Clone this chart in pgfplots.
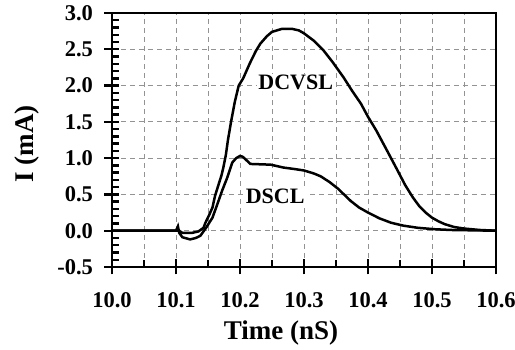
\documentclass[border=0pt]{standalone}
\usepackage{fontspec}
\setmainfont{Liberation Serif}
\usepackage{pgfplots}
\pgfplotsset{compat=1.18}
\begin{document}
\begin{tikzpicture}
\begin{axis}[
  at={(0,0)}, anchor=south west,
  scale only axis, width=384pt, height=254pt,
  xmin=10.0, xmax=10.6, ymin=-0.5, ymax=3.0,
  clip=false,
  xtick={10,10.1,10.2,10.3,10.4,10.5,10.6},
  xticklabels={10.0,10.1,10.2,10.3,10.4,10.5,10.6},
  ytick={-0.5,0,0.5,1,1.5,2,2.5,3},
  yticklabels={-0.5,0.0,0.5,1.0,1.5,2.0,2.5,3.0},
  minor x tick num=1, minor y tick num=4,
  xminorgrids=true, xmajorgrids=true, ymajorgrids=true,
  grid style={dash pattern=on 5pt off 4pt, gray!85, line width=0.8pt},
  tick align=center,
  major tick length=15pt, minor tick length=7pt,
  every minor x tick/.append style={yshift=3.5pt},
  every minor y tick/.append style={xshift=3.5pt},
  tick style={line width=2.4pt, black},
  xtick pos=bottom, ytick pos=left,
  axis line style={line width=1.1pt},
  ticklabel style={font=\bfseries\fontsize{22.5}{22.5}\selectfont},
  xticklabel style={anchor=center, yshift=-26pt},
  yticklabel style={anchor=east, xshift=-8pt},
  xlabel={Time (nS)}, ylabel={I (mA)},
  label style={font=\bfseries\fontsize{27}{27}\selectfont},
  xlabel style={at={(axis description cs:0.44,-0.26)}, anchor=center},
  ylabel style={at={(axis description cs:-0.221,0.484)}, anchor=center},
]
% DCVSL
\addplot[black, line width=2.5pt] coordinates {
(10.0,0) (10.105,0) (10.11,-0.03) (10.125,-0.03) (10.135,-0.01) (10.143,0.04)
(10.146,0.11) (10.152,0.22) (10.157,0.32) (10.161,0.48) (10.167,0.65)
(10.171,0.76) (10.174,0.87) (10.178,1.05) (10.181,1.24) (10.186,1.5)
(10.192,1.78) (10.198,2.0) (10.205,2.1) (10.215,2.3) (10.225,2.48)
(10.232,2.58) (10.242,2.68) (10.25,2.74) (10.265,2.78) (10.282,2.78)
(10.292,2.76) (10.30,2.72) (10.315,2.62) (10.33,2.49) (10.345,2.32)
(10.362,2.11) (10.375,1.93) (10.389,1.75) (10.40,1.57) (10.413,1.38)
(10.43,1.10) (10.445,0.85) (10.458,0.63) (10.47,0.46) (10.48,0.34)
(10.49,0.25) (10.50,0.18) (10.51,0.13) (10.52,0.09) (10.535,0.05)
(10.55,0.03) (10.575,0.01) (10.6,0)
};
% DSCL
\addplot[black, line width=2.5pt] coordinates {
(10.0,0) (10.1,0) (10.103,0.06) (10.105,-0.03) (10.11,-0.09) (10.122,-0.12)
(10.131,-0.1) (10.138,-0.07) (10.147,0.04) (10.152,0.11) (10.157,0.18)
(10.164,0.35) (10.172,0.55) (10.18,0.73) (10.188,0.94) (10.194,1.0)
(10.20,1.03) (10.204,1.02) (10.208,0.99) (10.216,0.92) (10.248,0.91)
(10.268,0.87) (10.285,0.85) (10.30,0.83) (10.315,0.79) (10.326,0.75)
(10.34,0.67) (10.353,0.58) (10.373,0.41) (10.386,0.32) (10.40,0.25)
(10.418,0.17) (10.436,0.11) (10.455,0.07) (10.478,0.04) (10.505,0.02)
(10.53,0.01) (10.6,0)
};
\draw[line width=2.6pt] (rel axis cs:0,1) -- (rel axis cs:0,0) -- (rel axis cs:1,0);
\node[fill=white, inner sep=1pt, font=\bfseries\fontsize{22}{22}\selectfont] at (axis cs:10.287,2.04) {DCVSL};
\node[fill=white, inner sep=1pt, font=\bfseries\fontsize{22}{22}\selectfont] at (axis cs:10.255,0.48) {DSCL};
\end{axis}
\pgfresetboundingbox
\path (-112pt,-83pt) rectangle (403pt,267pt);
\end{tikzpicture}
\end{document}
